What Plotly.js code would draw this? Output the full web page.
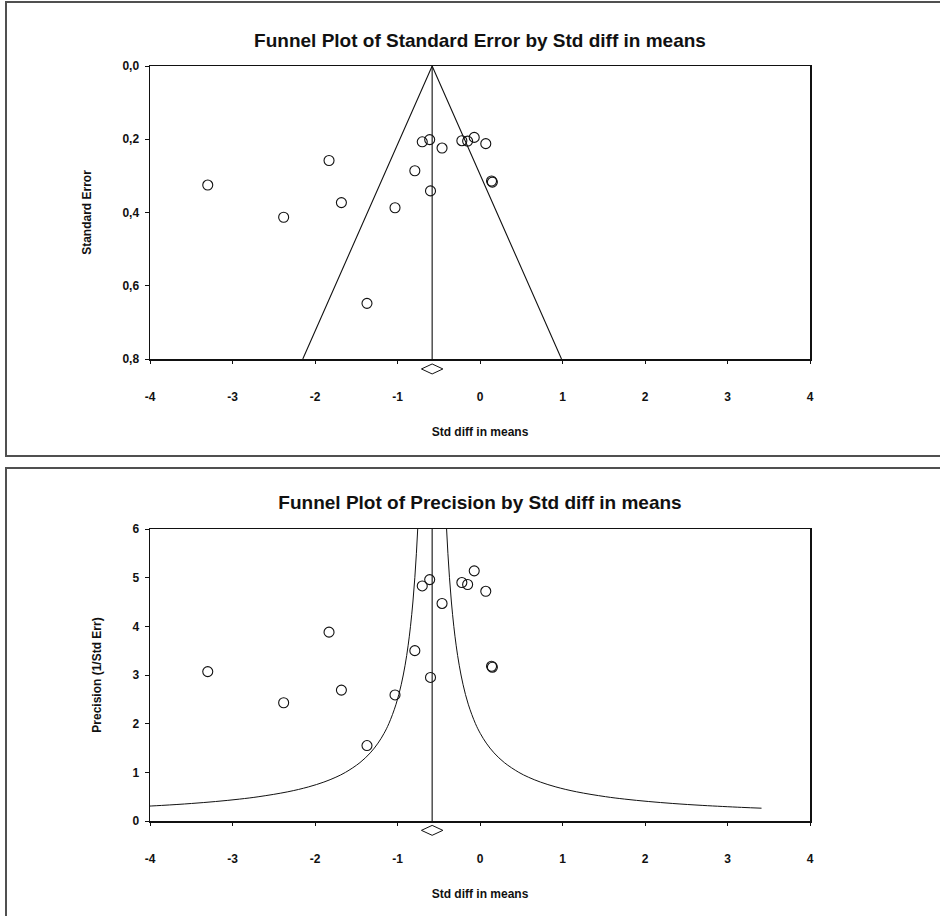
<!DOCTYPE html>
<html>
<head>
<meta charset="utf-8">
<script src="https://cdn.plot.ly/plotly-3.0.1.min.js"></script>
<style>
  html, body { margin: 0; padding: 0; background: #fff; overflow: hidden; width: 940px; height: 916px; }
  .panel { position: absolute; left: 5px; width: 945px; border: 2px solid #505050; background: #fff; }
  #p1 { top: 1px; height: 452px; }
  #p2 { top: 467px; height: 460px; }
</style>
</head>
<body>
<div class="panel" id="p1"><div id="chart1"></div></div>
<div class="panel" id="p2"><div id="chart2"></div></div>
<script>
// ---- data ----
const studyEffect = [-3.30, -1.83, -2.38, -1.68, -1.03, -1.37, -0.79, -0.60, -0.70, -0.61, -0.46, -0.22, -0.15, -0.07, 0.07, 0.14, 0.15];
const studyStdErr = [0.325, 0.258, 0.413, 0.373, 0.387, 0.648, 0.286, 0.341, 0.207, 0.201, 0.224, 0.204, 0.205, 0.195, 0.212, 0.314, 0.317];
const studyPrecision = [3.07, 3.88, 2.43, 2.69, 2.59, 1.55, 3.50, 2.95, 4.83, 4.96, 4.47, 4.90, 4.86, 5.14, 4.72, 3.18, 3.16];
const pooledEffect = -0.58;
const zTop = 1.96;         // funnel half-width multiplier (SE plot)
const zBottom = 1.05;      // funnel half-width multiplier (precision plot, as drawn)
const seMax = 0.8;
const precisionLevels = [0.263, 0.28, 0.32, 0.36, 0.4, 0.45, 0.5, 0.6, 0.7, 0.8, 0.9, 1.0, 1.2, 1.4, 1.6, 1.8, 2.0, 2.4, 2.8, 3.2, 3.6, 4.0, 4.5, 5.0, 5.5, 6.0, 6.5];
const xTicks = [-4, -3, -2, -1, 0, 1, 2, 3, 4];
const xTickLabels = ['-4', '-3', '-2', '-1', '0', '1', '2', '3', '4'];
const seTicks = [0, 0.2, 0.4, 0.6, 0.8];
const seTickLabels = ['0,0', '0,2', '0,4', '0,6', '0,8'];
const precTicks = [0, 1, 2, 3, 4, 5, 6];
const precTickLabels = ['0', '1', '2', '3', '4', '5', '6'];
const title1 = 'Funnel Plot of Standard Error by Std diff in means';
const title2 = 'Funnel Plot of Precision by Std diff in means';
const xLabel = 'Std diff in means';
const yLabel1 = 'Standard Error';
const yLabel2 = 'Precision (1/Std Err)';

const FONT = 'Arial, "Liberation Sans", sans-serif';
const INK = '#111';

function xAxis() {
  return {
    range: [-4, 4], tickvals: xTicks, ticktext: xTickLabels, ticks: 'outside', ticklen: 3, tickwidth: 1, tickcolor: INK,
    showline: true, linecolor: INK, linewidth: 1.5, mirror: true, showgrid: false, zeroline: false,
    tickfont: {family: FONT, size: 12, color: INK, weight: 'bold'}, ticklabelstandoff: 23,
    title: {text: xLabel, font: {family: FONT, size: 12, color: INK, weight: 'bold'}, standoff: 24},
    fixedrange: true
  };
}
function yAxis(range, ticks, labels, label) {
  return {
    range: range, tickvals: ticks, ticktext: labels, ticks: 'outside', ticklen: 4, tickwidth: 1, tickcolor: INK,
    showline: true, linecolor: INK, linewidth: 1.5, mirror: true, showgrid: false, zeroline: false,
    tickfont: {family: FONT, size: 12, color: INK, weight: 'bold'}, ticklabelstandoff: 3,
    title: {text: label, font: {family: FONT, size: 12, color: INK, weight: 'bold'}, standoff: 28},
    fixedrange: true
  };
}
function diamond(yc, h) {
  const w = 0.13;
  return {type: 'path', xref: 'x', yref: 'paper',
    path: `M ${pooledEffect - w},${yc} L ${pooledEffect},${yc + h} L ${pooledEffect + w},${yc} L ${pooledEffect},${yc - h} Z`,
    line: {color: INK, width: 1}, fillcolor: 'rgba(0,0,0,0)'};
}
const markerStyle = {symbol: 'circle-open', size: 10, color: INK, line: {width: 1.1, color: INK}};

// ---- top: standard error ----
const seLeft = [pooledEffect - zTop * seMax, pooledEffect, pooledEffect + zTop * seMax];
const seY = [seMax, 0, seMax];
const traces1 = [
  {x: seLeft, y: seY, mode: 'lines', line: {color: INK, width: 1.1}, hoverinfo: 'skip'},
  {x: [pooledEffect, pooledEffect], y: [0, seMax], mode: 'lines', line: {color: INK, width: 1.1}, hoverinfo: 'skip'},
  {x: studyEffect, y: studyStdErr, mode: 'markers', marker: markerStyle}
];
const layout1 = {
  width: 940, height: 452, margin: {l: 143, r: 137, t: 62.5, b: 96},
  paper_bgcolor: '#fff', plot_bgcolor: '#fff', showlegend: false,
  title: {text: '<b>' + title1 + '</b>', font: {family: FONT, size: 19, color: INK},
          x: 0.5, xref: 'paper', y: 1 - 37 / 452, yref: 'container', yanchor: 'middle'},
  xaxis: xAxis(),
  yaxis: Object.assign(yAxis([seMax, 0], seTicks, seTickLabels, yLabel1), {autorange: false}),
  shapes: [diamond(-0.034, 0.017)]
};

// ---- bottom: precision ----
const leftX = precisionLevels.map(p => pooledEffect - zBottom / p);
const rightX = precisionLevels.map(p => pooledEffect + zBottom / p);
const traces2 = [
  {x: leftX, y: precisionLevels, mode: 'lines', line: {color: INK, width: 1, shape: 'spline'}, hoverinfo: 'skip'},
  {x: rightX, y: precisionLevels, mode: 'lines', line: {color: INK, width: 1, shape: 'spline'}, hoverinfo: 'skip'},
  {x: [pooledEffect, pooledEffect], y: [0, 6], mode: 'lines', line: {color: INK, width: 1.1}, hoverinfo: 'skip'},
  {x: studyEffect, y: studyPrecision, mode: 'markers', marker: markerStyle}
];
const layout2 = {
  width: 940, height: 450, margin: {l: 143, r: 137, t: 60, b: 98.3},
  paper_bgcolor: '#fff', plot_bgcolor: '#fff', showlegend: false,
  title: {text: '<b>' + title2 + '</b>', font: {family: FONT, size: 19, color: INK},
          x: 0.5, xref: 'paper', y: 1 - 33 / 450, yref: 'container', yanchor: 'middle'},
  xaxis: xAxis(),
  yaxis: yAxis([0, 6], precTicks, precTickLabels, yLabel2),
  shapes: [diamond(-0.032, 0.017)]
};

const cfg = {displayModeBar: false, staticPlot: true};
Plotly.newPlot('chart1', traces1, layout1, cfg);
Plotly.newPlot('chart2', traces2, layout2, cfg);
</script>
</body>
</html>
